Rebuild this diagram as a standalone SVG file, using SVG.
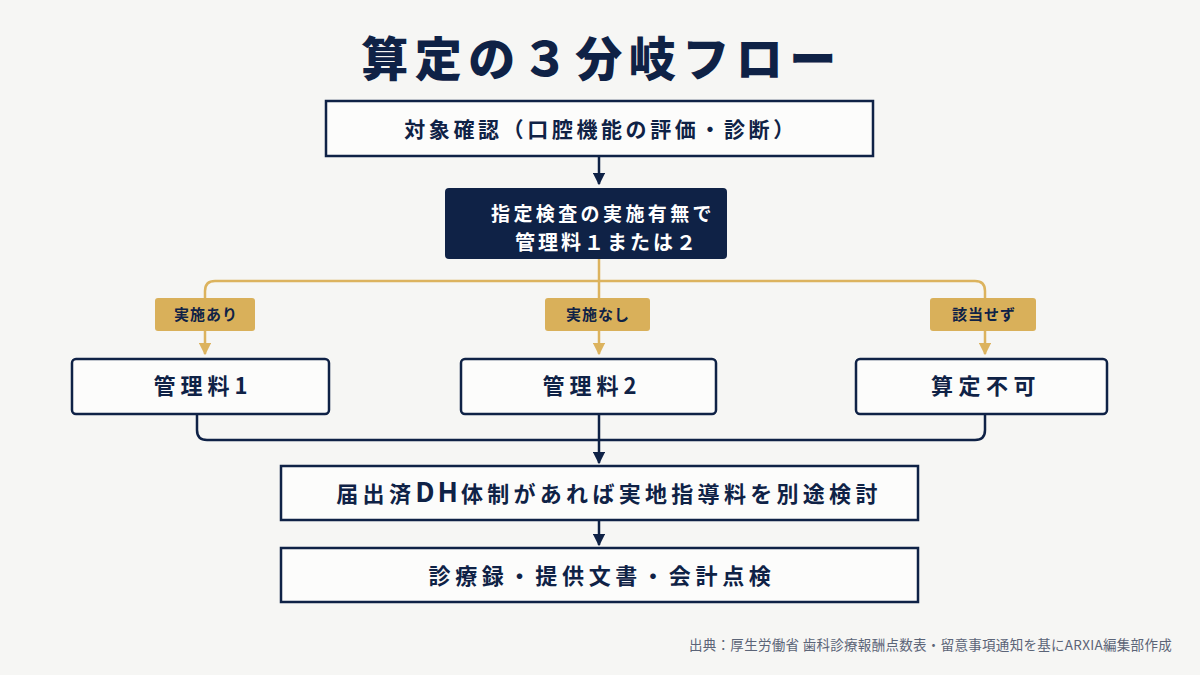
<svg xmlns="http://www.w3.org/2000/svg" width="1200" height="675" viewBox="0 0 1200 675">
<defs>
<style>
.t{font-family:"Noto Sans CJK JP","Noto Sans",sans-serif;font-weight:700;fill:#0f2246}
.box{fill:#fcfcfb;stroke:#0f2246;stroke-width:2.5}
.lab{fill:#d9b05a}
.nav{fill:none;stroke:#0f2246;stroke-width:2.5}
.gold{fill:none;stroke:#dcb35e;stroke-width:2.5}
</style>
<marker id="an" viewBox="0 0 10 10" refX="9" refY="5" markerWidth="5" markerHeight="5" orient="auto" markerUnits="strokeWidth"><path d="M0,0L10,5L0,10z" fill="#0f2246"/></marker>
<marker id="ag" viewBox="0 0 10 10" refX="9" refY="5" markerWidth="5" markerHeight="5" orient="auto" markerUnits="strokeWidth"><path d="M0,0L10,5L0,10z" fill="#dcb35e"/></marker>
</defs>
<rect width="1200" height="675" fill="#f6f6f4"/>
<text class="t" x="602" y="76" font-size="47" letter-spacing="6.5" text-anchor="middle" style="font-weight:900">算定の３分岐フロー</text>

<g id="connectors">
<path class="nav" d="M599,157V184" marker-end="url(#an)"/>
<path class="gold" d="M599,259V281"/>
<path class="gold" d="M599,281H215Q205,281 205,291V354" marker-end="url(#ag)"/>
<path class="gold" d="M599,281H975Q985,281 985,291V354" marker-end="url(#ag)"/>
<path class="gold" d="M599,281V354" marker-end="url(#ag)"/>
<path class="nav" d="M197,414V430Q197,440 207,440H975Q985,440 985,430V414"/>
<path class="nav" d="M599,414V463" marker-end="url(#an)"/>
<path class="nav" d="M599,521V545" marker-end="url(#an)"/>
</g>

<g id="n-target">
<rect class="box" x="326" y="101" width="547" height="55"/>
<text class="t" x="601" y="137" font-size="21" letter-spacing="3.6" text-anchor="middle">対象確認（口腔機能の評価・診断）</text>
</g>
<g id="n-check">
<rect x="445" y="188" width="282" height="71" rx="4" fill="#0f2246"/>
<text class="t" x="603" y="221" font-size="19" letter-spacing="3.4" text-anchor="middle" style="fill:#ffffff">指定検査の実施有無で</text>
<text class="t" x="607" y="250" font-size="20" letter-spacing="3" text-anchor="middle" style="fill:#ffffff">管理料１または２</text>
</g>

<g id="l-ari">
<rect class="lab" x="155" y="298" width="100" height="33" rx="3"/>
<text class="t" x="206" y="320" font-size="15" letter-spacing="1" text-anchor="middle">実施あり</text>
</g>
<g id="l-nashi">
<rect class="lab" x="545" y="298" width="105" height="33" rx="3"/>
<text class="t" x="598" y="320" font-size="15" letter-spacing="1" text-anchor="middle">実施なし</text>
</g>
<g id="l-gaitou">
<rect class="lab" x="930" y="298" width="106" height="33" rx="3"/>
<text class="t" x="984" y="320" font-size="15" letter-spacing="1" text-anchor="middle">該当せず</text>
</g>

<g id="n-k1">
<rect class="box" x="72" y="359" width="257" height="55" rx="4"/>
<text class="t" x="203" y="394" font-size="22" letter-spacing="5" text-anchor="middle">管理料1</text>
</g>
<g id="n-k2">
<rect class="box" x="461" y="359" width="255" height="55" rx="4"/>
<text class="t" x="592" y="394" font-size="22" letter-spacing="5" text-anchor="middle">管理料2</text>
</g>
<g id="n-fuka">
<rect class="box" x="856" y="359" width="251" height="55" rx="4"/>
<text class="t" x="986" y="394" font-size="22" letter-spacing="5.5" text-anchor="middle">算定不可</text>
</g>

<g id="n-dh">
<rect class="box" x="281" y="466" width="637" height="54"/>
<text class="t" x="609" y="502" font-size="22" letter-spacing="4.3" text-anchor="middle">届出済<tspan font-size="27" letter-spacing="3">DH</tspan>体制があれば実地指導料を別途検討</text>
</g>
<g id="n-check2">
<rect class="box" x="281" y="548" width="637" height="54"/>
<text class="t" x="602" y="584" font-size="22" letter-spacing="4.7" text-anchor="middle">診療録・提供文書・会計点検</text>
</g>

<text x="1172" y="650" font-family="Noto Sans CJK JP,Noto Sans,sans-serif" font-size="13.5" letter-spacing="0.3" fill="#5b6477" text-anchor="end">出典：厚生労働省 歯科診療報酬点数表・留意事項通知を基にARXIA編集部作成</text>
</svg>
